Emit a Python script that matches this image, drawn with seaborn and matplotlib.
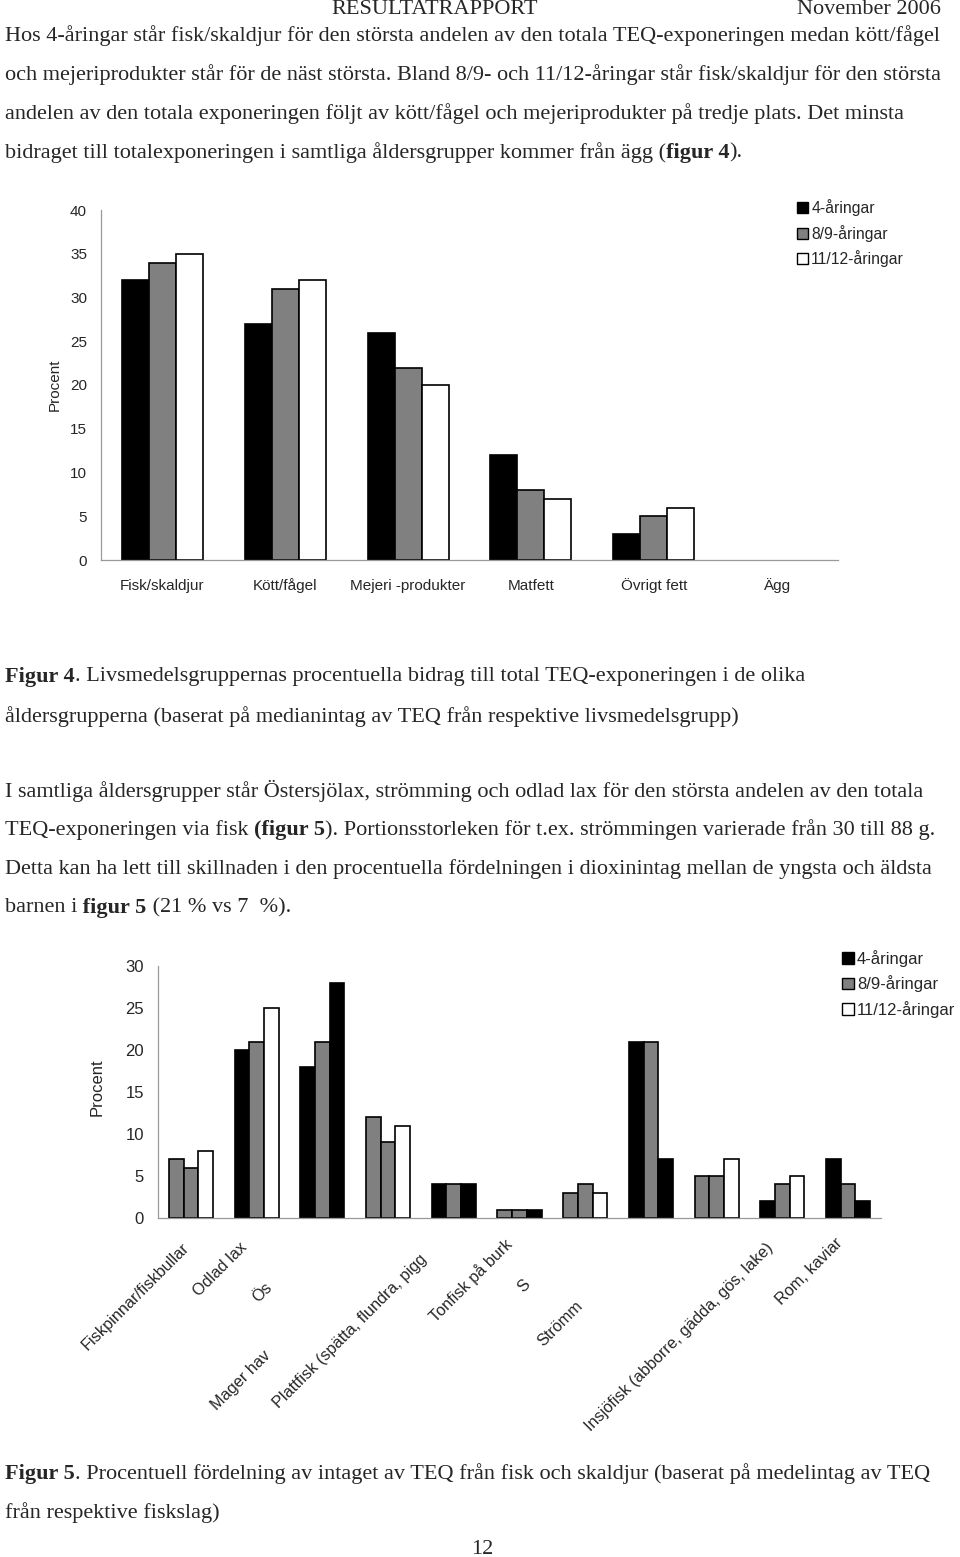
"""Figur 4 och 5: TEQ-exponering per livsmedelsgrupp och fiskslag."""
import matplotlib

matplotlib.use("Agg")
import matplotlib.pyplot as plt
import pandas as pd
import seaborn as sns
from matplotlib.patches import Patch
from matplotlib.transforms import blended_transform_factory

W, H = 960, 1557

age_groups = ["4-åringar", "8/9-åringar", "11/12-åringar"]

fig4_foods = ["Fisk/skaldjur", "Kött/fågel", "Mejeri -produkter", "Matfett", "Övrigt fett", "Ägg"]
fig4_4ar = [32, 27, 26, 12, 3, 0]
fig4_89ar = [34, 31, 22, 8, 5, 0]
fig4_1112ar = [35, 32, 20, 7, 6, 0]

fig5_fish = [
    "Fiskpinnar/fiskbullar",
    "Odlad lax",
    "Ös",
    "Mager hav",
    "Plattfisk (spätta, flundra, pigg",
    "Tonfisk på burk",
    "S",
    "Strömm",
    "",
    "Insjöfisk (abborre, gädda, gös, lake)",
    "Rom, kaviar",
]
fig5_4ar = [7, 20, 18, 12, 4, 1, 3, 21, 5, 2, 7]
fig5_89ar = [6, 21, 21, 9, 4, 1, 4, 21, 5, 4, 4]
fig5_1112ar = [8, 25, 28, 11, 4, 1, 3, 7, 7, 5, 2]

# the pdf fills some bars with the "wrong" colour, keep that as in the original
GREY = "#808080"
fig5_fill = [
    [GREY, GREY, "white"],
    ["black", GREY, "white"],
    ["black", GREY, "black"],
    [GREY, GREY, "white"],
    ["black", GREY, "black"],
    [GREY, GREY, "black"],
    [GREY, GREY, "white"],
    ["black", GREY, "black"],
    [GREY, GREY, "white"],
    ["black", GREY, "white"],
    ["black", GREY, "black"],
]
# label anchor (x in group units, pixels below the axis)
fig5_label_pos = [
    (-0.15, 22), (0.74, 22), (1.12, 62), (1.1, 130), (3.48, 34), (4.75, 17),
    (5.05, 59), (5.85, 80), (8.0, 22), (8.75, 22), (9.8, 17),
]

SERIF = ["Liberation Serif", "DejaVu Serif"]
SANS = ["Liberation Sans", "DejaVu Sans"]
AXIS_GREY = "#9a9a9a"

sns.set_style("white")
plt.rcParams["font.family"] = SANS


def long_frame(cats, a, b, c, col):
    df = pd.DataFrame({col: cats, age_groups[0]: a, age_groups[1]: b, age_groups[2]: c})
    return df.melt(id_vars=col, var_name="age", value_name="value")


def style_axes(ax, ymax, step, ngroups, fs):
    ax.set_ylim(0, ymax)
    ax.set_yticks(range(0, ymax + 1, step))
    ax.set_xlim(-0.5, ngroups - 0.5)
    ax.set_xticks([x - 0.5 for x in range(ngroups + 1)], minor=True)
    for side in ["top", "right"]:
        ax.spines[side].set_visible(False)
    for side in ["left", "bottom"]:
        ax.spines[side].set_color(AXIS_GREY)
        ax.spines[side].set_linewidth(0.9)
    ax.tick_params(axis="y", length=4, width=0.9, color=AXIS_GREY, labelsize=fs, pad=6)
    ax.tick_params(axis="x", which="major", length=0, labelsize=fs, pad=21.5)
    ax.tick_params(axis="x", which="minor", length=4, width=0.9, color=AXIS_GREY)
    for lab in ax.get_xticklabels():
        lab.set_verticalalignment("baseline")
    ax.set_xlabel("")
    ax.set_ylabel("")
    for p in ax.patches:
        if p.get_height() == 0:
            p.set_linewidth(0)


def add_legend(x, y, fs, spacing):
    handles = [
        Patch(facecolor=col, edgecolor="black", linewidth=1.0)
        for col in ["black", GREY, "white"]
    ]
    fig.legend(
        handles, age_groups, loc="upper left", bbox_to_anchor=(x / W, 1 - y / H),
        frameon=False, fontsize=fs, handlelength=0.7, handleheight=0.7,
        handletextpad=0.2, labelspacing=spacing, borderpad=0, borderaxespad=0,
    )


fig = plt.figure(figsize=(W / 100, H / 100), dpi=100)
renderer = fig.canvas.get_renderer()

# ---- Figur 4 ----
ax1 = fig.add_axes([101 / W, 1 - 560 / H, 737 / W, 350 / H])
df4 = long_frame(fig4_foods, fig4_4ar, fig4_89ar, fig4_1112ar, "food")
sns.barplot(
    data=df4, x="food", y="value", hue="age", order=fig4_foods, hue_order=age_groups,
    palette=["black", GREY, "white"], saturation=1, edgecolor="black", linewidth=1.2,
    width=0.66, legend=False, ax=ax1,
)
style_axes(ax1, 40, 5, len(fig4_foods), 11)
fig.text(55 / W, 1 - 385 / H, "Procent", rotation=90, fontsize=11, ha="center", va="center")
add_legend(797, 199, 11.3, 0.56)

# ---- Figur 5 ----
ax2 = fig.add_axes([158 / W, 1 - 1218 / H, 723 / W, 252 / H])
df5 = long_frame(fig5_fish, fig5_4ar, fig5_89ar, fig5_1112ar, "fish")
sns.barplot(
    data=df5, x="fish", y="value", hue="age", order=fig5_fish, hue_order=age_groups,
    palette=["black", GREY, "white"], saturation=1, edgecolor="black", linewidth=1.2,
    width=0.67, legend=False, ax=ax2,
)
for level, bars in enumerate(ax2.containers):
    for i, bar in enumerate(bars):
        bar.set_facecolor(fig5_fill[i][level])
style_axes(ax2, 30, 5, len(fig5_fish), 12)
ax2.set_xticklabels([])
trans = blended_transform_factory(ax2.transData, fig.dpi_scale_trans)
for name, (gx, dy) in zip(fig5_fish, fig5_label_pos):
    ax2.text(gx, (H - 1218 - dy) / 100, name, transform=trans, rotation=45,
             rotation_mode="anchor", ha="right", va="top", fontsize=11.7)
fig.text(97 / W, 1 - 1087 / H, "Procent", rotation=90, fontsize=12, ha="center", va="center")
add_legend(842, 950, 12, 0.51)

# ---- page text ----
BODY = 16


def text_line(y, parts, x=5):
    for s, bold in parts:
        t = fig.text(x / W, 1 - y / H, s, fontsize=BODY, family=SERIF,
                     weight="bold" if bold else "normal", ha="left", va="center")
        x += t.get_window_extent(renderer).width


fig.text(435 / W, 1 - 9 / H, "RESULTATRAPPORT", fontsize=BODY, family=SERIF, ha="center", va="center")
fig.text(941 / W, 1 - 9 / H, "November 2006", fontsize=BODY, family=SERIF, ha="right", va="center")

text_line(36, [("Hos 4-åringar står fisk/skaldjur för den största andelen av den totala TEQ-exponeringen medan kött/fågel", False)])
text_line(75, [("och mejeriprodukter står för de näst största. Bland 8/9- och 11/12-åringar står fisk/skaldjur för den största", False)])
text_line(114, [("andelen av den totala exponeringen följt av kött/fågel och mejeriprodukter på tredje plats. Det minsta", False)])
text_line(153, [("bidraget till totalexponeringen i samtliga åldersgrupper kommer från ägg (", False), ("figur 4", True), (").", False)])

text_line(677, [("Figur 4", True), (". Livsmedelsgruppernas procentuella bidrag till total TEQ-exponeringen i de olika", False)])
text_line(717, [("åldersgrupperna (baserat på medianintag av TEQ från respektive livsmedelsgrupp)", False)])

text_line(791, [("I samtliga åldersgrupper står Östersjölax, strömming och odlad lax för den största andelen av den totala", False)])
text_line(830, [("TEQ-exponeringen via fisk ", False), ("(figur 5", True), ("). Portionsstorleken för t.ex. strömmingen varierade från 30 till 88 g.", False)])
text_line(869, [("Detta kan ha lett till skillnaden i den procentuella fördelningen i dioxinintag mellan de yngsta och äldsta", False)])
text_line(908, [("barnen i", False), (" figur 5", True), (" (21 % vs 7  %).", False)])

text_line(1474, [("Figur 5", True), (". Procentuell fördelning av intaget av TEQ från fisk och skaldjur (baserat på medelintag av TEQ", False)])
text_line(1513, [("från respektive fiskslag)", False)])
fig.text(482 / W, 1 - 1549 / H, "12", fontsize=BODY, family=SERIF, ha="center", va="center")

fig.savefig("out.png", dpi=100, facecolor="white")
